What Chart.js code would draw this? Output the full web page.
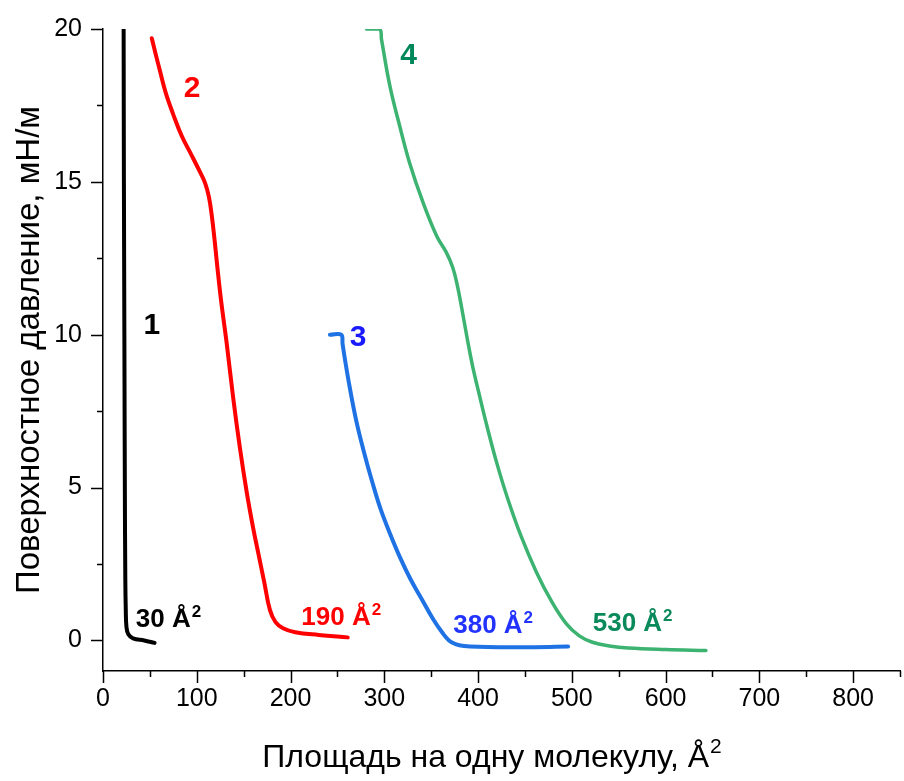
<!DOCTYPE html>
<html>
<head>
<meta charset="utf-8">
<script src="https://cdn.jsdelivr.net/npm/chart.js@4.4.0/dist/chart.umd.min.js"></script>
<style>
  body { margin: 0; background: #fff; }
</style>
</head>
<body>
<canvas id="myChart" width="904" height="781"></canvas>
<script>
// curve 1 (black)
let area1 = [22, 22.3, 22.8, 23.3, 23.8, 24.3, 25, 27, 32, 44, 55];
let press1 = [20, 15, 10, 5, 2, 1, 0.45, 0.2, 0.07, 0.0, -0.08];
// curve 2 (red)
let area2 = [52, 56, 61, 67, 75, 84, 94, 103, 109, 113, 116, 119, 122, 126, 132, 139, 146, 153, 160, 166, 172, 178, 184, 192, 205, 230, 261];
let press2 = [19.7, 19.2, 18.6, 17.9, 17.2, 16.5, 15.9, 15.35, 14.95, 14.5, 13.9, 13.1, 12.2, 11.1, 9.7, 7.9, 6.3, 4.9, 3.7, 2.8, 1.9, 1.0, 0.6, 0.4, 0.27, 0.18, 0.1];
// curve 3 (blue)
let area3 = [242, 254, 255.5, 258, 263, 270, 278, 287, 296, 306, 317, 328, 340, 352, 362, 369, 376, 385, 400, 430, 460, 496];
let press3 = [10, 10, 9.7, 9.2, 8.3, 7.2, 6.2, 5.2, 4.3, 3.5, 2.7, 2.0, 1.35, 0.7, 0.25, 0.0, -0.12, -0.18, -0.21, -0.22, -0.22, -0.2];
// curve 4 (green)
let area4 = [281, 295, 297, 306, 316.5, 327, 341.5, 356, 366, 373, 378, 383, 388, 394, 402, 410, 420, 432, 446, 462, 478, 494, 508, 522, 540, 560, 600, 643];
let press4 = [20, 20, 19.66, 18.13, 16.82, 15.62, 14.31, 13.22, 12.7, 12.2, 11.6, 10.8, 9.95, 9.0, 7.95, 6.95, 5.8, 4.6, 3.4, 2.25, 1.3, 0.55, 0.15, -0.06, -0.18, -0.25, -0.3, -0.33];

let xTicks = [0, 100, 200, 300, 400, 500, 600, 700, 800];
let xMinor = [50, 150, 250, 350, 450, 550, 650, 750, 850];
let yTicks = [0, 5, 10, 15, 20];
let yMinor = [2.5, 7.5, 12.5, 17.5];

// curve numbers and area labels: text, x, y (data units), colour
let curveNames = ["1", "2", "3", "4"];
let nameX = [52, 95, 272, 326];
let nameY = [10.3, 18.05, 9.9, 19.13];
let nameColors = ["#000000", "#ff0000", "#1a1aff", "#00875a"];
let areaTexts = ["30 Å", "190 Å", "380 Å", "530 Å"];
let areaX = [35, 211.5, 373.5, 522.3];
let areaY = [0.44, 0.51, 0.24, 0.31];
let areaColors = ["#000000", "#ff0000", "#2233ff", "#0a8a5a"];

let xTitle = "Площадь на одну молекулу, Å";

function pts(xs, ys) {
  return xs.map(function (v, i) {
    return { x: v, y: ys[i] };
  });
}

const FONT = "'Liberation Sans', Arial, sans-serif";

// tick marks (major + minor) drawn outward, plus the text labels
const tickPlugin = {
  id: "tickMarks",
  afterDraw(chart) {
    const ctx = chart.ctx;
    const xs = chart.scales.x;
    const ys = chart.scales.y;
    const a = chart.chartArea;
    ctx.save();
    ctx.strokeStyle = "#000";
    ctx.lineWidth = 1.5;
    ctx.beginPath();
    xTicks.forEach(function (v) {
      let p = Math.round(xs.getPixelForValue(v)) + 0.5;
      ctx.moveTo(p, a.bottom);
      ctx.lineTo(p, a.bottom + 12);
    });
    xMinor.forEach(function (v) {
      let p = Math.round(xs.getPixelForValue(v)) + 0.5;
      ctx.moveTo(p, a.bottom);
      ctx.lineTo(p, a.bottom + 6);
    });
    yTicks.forEach(function (v) {
      let p = Math.round(ys.getPixelForValue(v)) + 0.5;
      ctx.moveTo(a.left, p);
      ctx.lineTo(a.left - 12, p);
    });
    yMinor.forEach(function (v) {
      let p = Math.round(ys.getPixelForValue(v)) + 0.5;
      ctx.moveTo(a.left, p);
      ctx.lineTo(a.left - 6, p);
    });
    ctx.stroke();

    ctx.textBaseline = "middle";
    ctx.textAlign = "center";
    ctx.font = "bold 30px " + FONT;
    curveNames.forEach(function (t, i) {
      ctx.fillStyle = nameColors[i];
      ctx.fillText(t, xs.getPixelForValue(nameX[i]), ys.getPixelForValue(nameY[i]));
    });
    ctx.textBaseline = "alphabetic";
    ctx.textAlign = "left";
    areaTexts.forEach(function (t, i) {
      let px = xs.getPixelForValue(areaX[i]);
      let py = ys.getPixelForValue(areaY[i]);
      ctx.fillStyle = areaColors[i];
      ctx.font = "bold 26px " + FONT;
      ctx.fillText(t, px, py);
      let w = ctx.measureText(t).width;
      ctx.font = "bold 17px " + FONT;
      ctx.fillText("2", px + w + 1, py - 10);
    });

    // x axis title with superscript
    ctx.fillStyle = "#000";
    ctx.font = "32px " + FONT;
    let tw = ctx.measureText(xTitle).width;
    ctx.font = "21px " + FONT;
    let sw = ctx.measureText("2").width;
    let tx = (a.left + a.right) / 2 - 10 - (tw + sw) / 2;
    let ty = chart.height - 14;
    ctx.font = "32px " + FONT;
    ctx.fillText(xTitle, tx, ty);
    ctx.font = "21px " + FONT;
    ctx.fillText("2", tx + tw + 1, ty - 14);
    ctx.restore();
  },
};

let mychart = document.getElementById("myChart").getContext("2d");
let isoChart = new Chart(mychart, {
  type: "line",
  data: {
    datasets: [
      { label: "1", data: pts(area1, press1), borderColor: "#000000", borderWidth: 4 },
      { label: "2", data: pts(area2, press2), borderColor: "#ff0000", borderWidth: 4 },
      { label: "3", data: pts(area3, press3), borderColor: "#1f72e3", borderWidth: 4 },
      { label: "4", data: pts(area4, press4), borderColor: "#3cb371", borderWidth: 3.5 },
    ],
  },
  options: {
    responsive: false,
    animation: false,
    devicePixelRatio: 1,
    layout: { padding: { top: 29, right: 4, left: 0, bottom: 0 } },
    elements: {
      point: { radius: 0 },
      line: { tension: 0.4, borderCapStyle: "round", borderJoinStyle: "round" },
    },
    plugins: {
      legend: { display: false },
      tooltip: { enabled: false },
    },
    scales: {
      x: {
        type: "linear",
        min: 0,
        max: 850,
        afterFit: function (s) { s.height = 110; },
        afterBuildTicks: function (s) {
          s.ticks = xTicks.map(function (v) { return { value: v }; });
        },
        grid: { display: true, drawOnChartArea: false, drawTicks: true, tickLength: 12, color: "rgba(0,0,0,0)" },
        border: { display: true, color: "#000", width: 1.5 },
        ticks: { color: "#000", font: { family: FONT, size: 25 }, padding: 1, maxRotation: 0 },
        title: { display: false },
      },
      y: {
        type: "linear",
        min: -1,
        max: 20,
        afterFit: function (s) { s.width = 103; },
        afterBuildTicks: function (s) {
          s.ticks = yTicks.map(function (v) { return { value: v }; });
        },
        grid: { display: true, drawOnChartArea: false, drawTicks: true, tickLength: 12, color: "rgba(0,0,0,0)" },
        border: { display: true, color: "#000", width: 1.5 },
        ticks: { color: "#000", font: { family: FONT, size: 25 }, padding: 9 },
        title: {
          display: true,
          text: "Поверхностное давление, мН/м",
          color: "#000",
          font: { family: FONT, size: 33 },
          padding: { top: 10, bottom: 0 },
        },
      },
    },
  },
  plugins: [tickPlugin],
});
</script>
</body>
</html>
